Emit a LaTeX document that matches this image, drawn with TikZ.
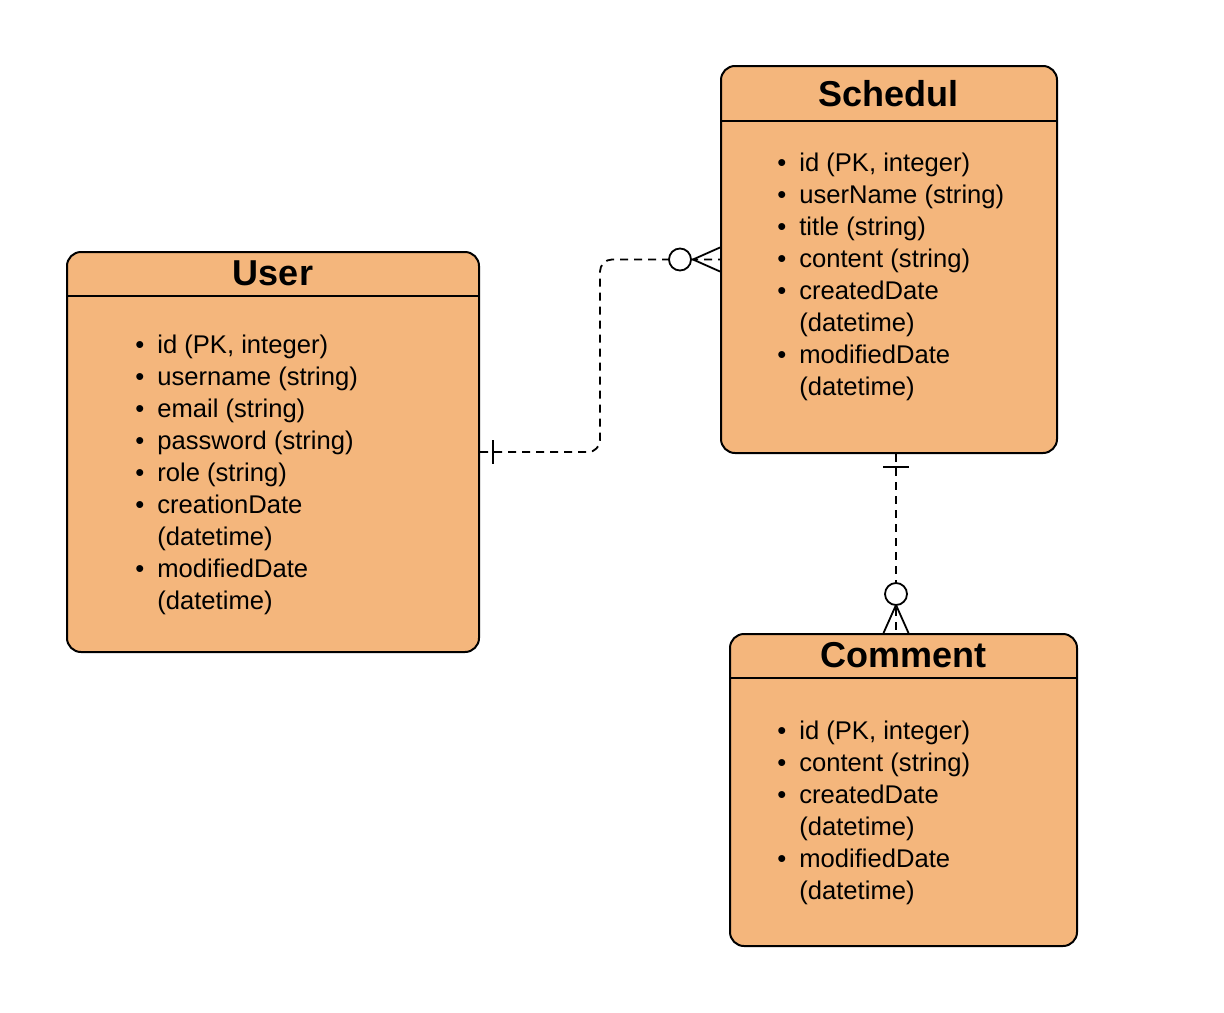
\documentclass[tikz,border=0pt]{standalone}
\usepackage{fontspec}
\setmainfont{Liberation Sans}
\usepackage{tikz}
\usetikzlibrary{calc,positioning}
\definecolor{entityfill}{HTML}{F4B67C}
\tikzset{
  entity/.style={draw, line width=1pt, fill=entityfill, rounded corners=7pt, inner sep=0pt},
  etitle/.style={font=\fontsize{18}{22}\selectfont\bfseries, inner sep=0pt},
  attrs/.style={anchor=base west, inner sep=0pt, font=\fontsize{12.8}{16}\selectfont},
  rel/.style={line width=0.9pt, dash pattern=on 4pt off 3pt},
  relend/.style={line width=0.9pt}
}
\newcommand{\attr}[1]{\textbullet & #1\\}
\newcommand{\attrcont}[1]{ & #1\\}

\begin{document}
\begin{tikzpicture}[x=0.5pt,y=-0.5pt]
\useasboundingbox (0,0) rectangle (1224,1012);

% entities
\node[entity, minimum width=206pt, minimum height=200pt] (user) at (273,452) {};
\node[entity, minimum width=168pt, minimum height=193.5pt] (sched) at (889,259.5) {};
\node[entity, minimum width=173.5pt, minimum height=156pt] (comment) at (903.5,790) {};

\draw[line width=1pt] (user.west |- 0,296) -- (user.east |- 0,296);
\draw[line width=1pt] (sched.west |- 0,121) -- (sched.east |- 0,121);
\draw[line width=1pt] (comment.west |- 0,678) -- (comment.east |- 0,678);

\node[etitle] (usertitle) at (273,273) {User};
\node[etitle] (schedtitle) at (888,94) {Schedul};
\node[etitle] (commenttitle) at (903,655) {Comment};

\node[attrs] (userattrs) at (135,353) {\begin{tabular}[t]{@{}l@{\hspace{6.5pt}}l@{}}
\attr{id (PK, integer)}
\attr{username (string)}
\attr{email (string)}
\attr{password (string)}
\attr{role (string)}
\attr{creationDate}
\attrcont{(datetime)}
\attr{modifiedDate}
\attrcont{(datetime)}
\end{tabular}};

\node[attrs] (schedattrs) at (777,171) {\begin{tabular}[t]{@{}l@{\hspace{6.5pt}}l@{}}
\attr{id (PK, integer)}
\attr{userName (string)}
\attr{title (string)}
\attr{content (string)}
\attr{createdDate}
\attrcont{(datetime)}
\attr{modifiedDate}
\attrcont{(datetime)}
\end{tabular}};

\node[attrs] (commentattrs) at (777,739) {\begin{tabular}[t]{@{}l@{\hspace{6.5pt}}l@{}}
\attr{id (PK, integer)}
\attr{content (string)}
\attr{createdDate}
\attrcont{(datetime)}
\attr{modifiedDate}
\attrcont{(datetime)}
\end{tabular}};

% user -- schedul
\coordinate (bend) at (600,452);
\draw[rel, rounded corners=6pt] (user.east) -- (bend) |- (sched.west);
\draw[relend] ([xshift=6.5pt]user.east) ++(0,-12) -- ++(0,24);
\draw[relend] ($(sched.west)+(0,-12)$) -- ($(sched.west)+(-27,0)$) -- ($(sched.west)+(0,12)$);
\draw[relend, fill=white] ($(sched.west)+(-40,0)$) circle[radius=5.5pt];

% schedul -- comment
\coordinate (c2) at (896,0);
\coordinate (s1) at (c2 |- sched.south);
\coordinate (c1) at (c2 |- comment.north);
\draw[rel] (s1) -- (c1);
\draw[relend] ($(s1)+(-13,13)$) -- ($(s1)+(13,13)$);
\draw[relend] ($(c1)+(-12.5,0)$) -- ($(c1)+(0,-28)$) -- ($(c1)+(12.5,0)$);
\draw[relend, fill=white] ($(c1)+(0,-39)$) circle[radius=5.5pt];
\end{tikzpicture}
\end{document}
